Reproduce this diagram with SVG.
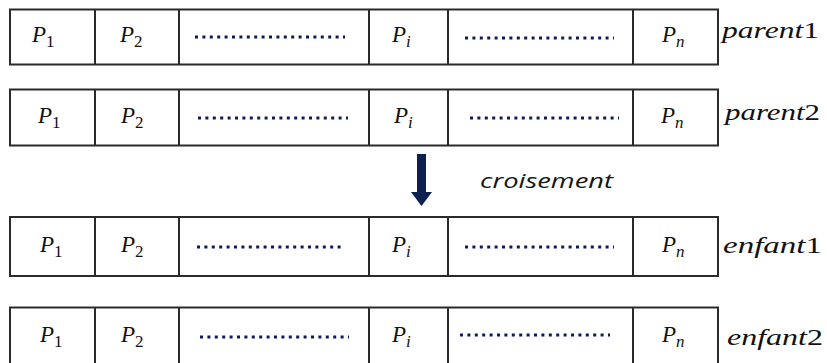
<svg xmlns="http://www.w3.org/2000/svg" width="827" height="363" viewBox="0 0 827 363">
<style>
.cell{fill:#fff;stroke:#2a2a2a;stroke-width:2}
.div{stroke:#2a2a2a;stroke-width:2}
.p{font-family:'Liberation Serif','DejaVu Serif','Times New Roman',serif;font-style:italic;font-size:23px;fill:#111}
.sub{font-size:17px}
.up{font-style:normal}
.dots{stroke:#101a5a;stroke-width:3;stroke-dasharray:3 4.4;fill:none}
.lab{font-family:'Liberation Serif','DejaVu Serif','Times New Roman',serif;font-style:italic;font-size:23px;fill:#111}
.cr{font-family:'Open Sans','Liberation Sans',sans-serif;font-style:italic;font-size:20px;fill:#151515}
</style>
<rect width="827" height="363" fill="#fff"/>
<g id="parent1">
<rect class="cell" x="10" y="9.5" width="708" height="55"/>
<path class="div" d="M95 9.5V64.5M179 9.5V64.5M369 9.5V64.5M448 9.5V64.5M633 9.5V64.5"/>
<text class="p" x="32" y="42">P<tspan class="sub up" dy="5">1</tspan></text>
<text class="p" x="120" y="42">P<tspan class="sub up" dy="5">2</tspan></text>
<text class="p" x="392" y="42">P<tspan class="sub" dy="5">i</tspan></text>
<text class="p" x="662" y="42">P<tspan class="sub" dy="5">n</tspan></text>
<line class="dots" x1="195" y1="37" x2="345" y2="37"/>
<line class="dots" x1="465" y1="38" x2="614" y2="38"/>
<text class="lab" x="722" y="38" textLength="97" lengthAdjust="spacingAndGlyphs">parent<tspan class="up">1</tspan></text>
</g>
<g id="parent2">
<rect class="cell" x="10" y="89.5" width="708" height="56"/>
<path class="div" d="M95 89.5V145.5M179 89.5V145.5M369 89.5V145.5M448 89.5V145.5M633 89.5V145.5"/>
<text class="p" x="38" y="123">P<tspan class="sub up" dy="5">1</tspan></text>
<text class="p" x="121" y="123">P<tspan class="sub up" dy="5">2</tspan></text>
<text class="p" x="394" y="123">P<tspan class="sub" dy="5">i</tspan></text>
<text class="p" x="661" y="123">P<tspan class="sub" dy="5">n</tspan></text>
<line class="dots" x1="198" y1="118" x2="348" y2="118"/>
<line class="dots" x1="470" y1="118" x2="619" y2="118"/>
<text class="lab" x="725" y="120" textLength="95" lengthAdjust="spacingAndGlyphs">parent<tspan class="up">2</tspan></text>
</g>
<g id="enfant1">
<rect class="cell" x="10" y="217" width="708" height="59"/>
<path class="div" d="M95 217V276M179 217V276M369 217V276M448 217V276M633 217V276"/>
<text class="p" x="40" y="252">P<tspan class="sub up" dy="5">1</tspan></text>
<text class="p" x="121" y="252">P<tspan class="sub up" dy="5">2</tspan></text>
<text class="p" x="392" y="252">P<tspan class="sub" dy="5">i</tspan></text>
<text class="p" x="662" y="252">P<tspan class="sub" dy="5">n</tspan></text>
<line class="dots" x1="197" y1="247" x2="345" y2="247"/>
<line class="dots" x1="465" y1="247" x2="614" y2="247"/>
<text class="lab" x="723" y="253" textLength="99" lengthAdjust="spacingAndGlyphs">enfant<tspan class="up">1</tspan></text>
</g>
<g id="enfant2">
<rect class="cell" x="10" y="307.5" width="708" height="60"/>
<path class="div" d="M95 307.5V367M179 307.5V367M369 307.5V367M448 307.5V367M633 307.5V367"/>
<text class="p" x="40" y="342">P<tspan class="sub up" dy="5">1</tspan></text>
<text class="p" x="121" y="342">P<tspan class="sub up" dy="5">2</tspan></text>
<text class="p" x="392" y="342">P<tspan class="sub" dy="5">i</tspan></text>
<text class="p" x="662" y="342">P<tspan class="sub" dy="5">n</tspan></text>
<line class="dots" x1="200" y1="337" x2="349" y2="337"/>
<line class="dots" x1="460" y1="335" x2="610" y2="335"/>
<text class="lab" x="727" y="345" textLength="96" lengthAdjust="spacingAndGlyphs">enfant<tspan class="up">2</tspan></text>
</g>
<g id="connectors">
<path d="M417 154H426V192H432L421.5 206L411 192H417Z" fill="#0c2150"/>
<text class="cr" x="480" y="188" textLength="133" lengthAdjust="spacingAndGlyphs">croisement</text>
</g>
</svg>
